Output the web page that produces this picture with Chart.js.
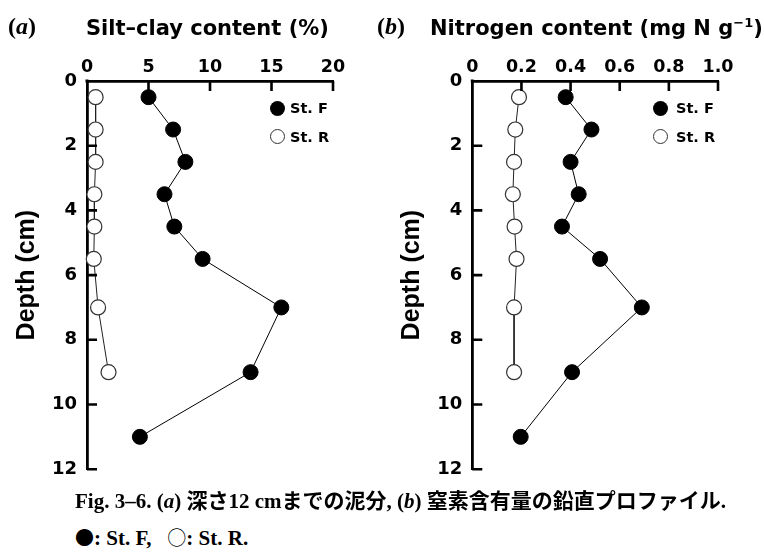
<!DOCTYPE html>
<html>
<head>
<meta charset="utf-8">
<script src="https://cdn.jsdelivr.net/npm/chart.js@4.4.1/dist/chart.umd.min.js"></script>
<style>
  html, body { margin: 0; padding: 0; background: #fff; }
  #page { position: relative; width: 764px; height: 553px; overflow: hidden; background: #fff; }
  .panel { position: absolute; top: 0; width: 382px; height: 490px; }
  .panel canvas { display: block; }
  .tag { position: absolute; top: 14px; font-family: "Liberation Serif", serif; font-weight: bold;
         font-size: 24px; line-height: 24px; white-space: nowrap; color: #000; }
  .tag i { font-style: italic; }
  .title { position: absolute; top: 18px; font-family: "DejaVu Sans", sans-serif; font-weight: bold;
           font-size: 21px; line-height: 21px; white-space: nowrap; color: #000; }
  .title sup { font-size: 13px; vertical-align: 8px; line-height: 0; }
  .key { position: absolute; font-family: "DejaVu Sans", sans-serif; font-weight: bold;
         font-size: 14.5px; line-height: 14px; white-space: nowrap; color: #000; }
  .dot { position: absolute; width: 15px; height: 15px; border-radius: 50%; box-sizing: border-box; }
  .dot.fill { background: #000; }
  .dot.open { background: #fff; border: 1.2px solid #333; }
  .cap { position: absolute; left: 75px; font-family: "Liberation Serif", "Noto Sans CJK JP", serif;
         font-weight: bold; font-size: 21px; line-height: 21px; white-space: nowrap; color: #000; }
  .cap i { font-style: italic; }
  .cap .sym { font-family: "Noto Sans CJK JP", sans-serif; font-weight: normal; font-size: 19px; }
</style>
</head>
<body>
<div id="page">
  <div class="panel" style="left:0"><canvas id="chartA" width="382" height="490"></canvas></div>
  <div class="panel" style="left:382px"><canvas id="chartB" width="382" height="490"></canvas></div>

  <div class="tag" style="left:8px">(<i>a</i>)</div>
  <div class="title" style="left:86px">Silt–clay content (%)</div>
  <div class="tag" style="left:377px">(<i>b</i>)</div>
  <div class="title" style="left:430px">Nitrogen content (mg N g<sup>−1</sup>)</div>

  <!-- legends -->
  <div class="dot fill" style="left:270px;top:100.5px"></div>
  <div class="key" style="left:290px;top:101px">St. F</div>
  <div class="dot open" style="left:270px;top:129px"></div>
  <div class="key" style="left:290px;top:130px">St. R</div>

  <div class="dot fill" style="left:653px;top:100.5px"></div>
  <div class="key" style="left:676px;top:101px">St. F</div>
  <div class="dot open" style="left:653px;top:129px"></div>
  <div class="key" style="left:676px;top:130px">St. R</div>

  <div class="cap" style="top:491px">Fig. 3–6. (<i>a</i>) 深さ12 cmまでの泥分, (<i>b</i>) 窒素含有量の鉛直プロファイル.</div>
  <div class="cap" style="top:526px"><span class="sym">●</span>: St. F,&nbsp;&nbsp;&nbsp;<span class="sym">○</span>: St. R.</div>
</div>

<script>
// Sampling depths (cm)
const depthF = [0.5, 1.5, 2.5, 3.5, 4.5, 5.5, 7, 9, 11];
const depthR = [0.5, 1.5, 2.5, 3.5, 4.5, 5.5, 7, 9];

// (a) silt–clay content (%)
const siltF = [5.0, 7.0, 8.0, 6.3, 7.1, 9.4, 15.8, 13.3, 4.3];
const siltR = [0.7, 0.7, 0.7, 0.6, 0.6, 0.55, 0.9, 1.75];

// (b) nitrogen content (mg N g-1)
const nitrogenF = [0.38, 0.485, 0.40, 0.433, 0.365, 0.52, 0.69, 0.406, 0.197];
const nitrogenR = [0.19, 0.175, 0.17, 0.165, 0.172, 0.18, 0.17, 0.17];

// Axis ticks
const depthTicks = [0, 2, 4, 6, 8, 10, 12];
const siltTicks = [0, 5, 10, 15, 20];
const nitrogenTicks = [0, 0.2, 0.4, 0.6, 0.8, 1.0];
const nitrogenTickLabels = ['0', '0.2', '0.4', '0.6', '0.8', '1.0'];

const toPoints = (xs, ys) => xs.map((v, i) => ({ x: v, y: ys[i] }));

// Short inward tick marks along both axes, plus a square corner joint
const inwardTicks = {
  id: 'inwardTicks',
  afterDraw(chart) {
    const { ctx, chartArea: a, scales: { x, y } } = chart;
    ctx.save();
    ctx.strokeStyle = '#000';
    ctx.lineWidth = 2.6;
    ctx.beginPath();
    x.ticks.forEach(t => {
      if (t.value === x.min) return;
      const px = x.getPixelForValue(t.value);
      ctx.moveTo(px, a.top);
      ctx.lineTo(px, a.top + 10);
    });
    y.ticks.forEach(t => {
      if (t.value === y.min) return;
      const py = y.getPixelForValue(t.value);
      ctx.moveTo(a.left, py);
      ctx.lineTo(a.left + 10, py);
    });
    ctx.stroke();
    ctx.fillStyle = '#000';
    ctx.fillRect(a.left - 1.5, a.top - 1.5, 3, 3);
    ctx.restore();
  }
};

function makeProfile(canvasId, cfg) {
  const W = 382, H = 490;
  return new Chart(document.getElementById(canvasId), {
    type: 'scatter',
    data: {
      datasets: [
        {
          label: 'St. R',
          data: toPoints(cfg.valuesR, depthR),
          showLine: true,
          borderColor: '#222',
          borderWidth: 1,
          pointRadius: 7.5,
          pointBackgroundColor: '#fff',
          pointBorderColor: '#333',
          pointBorderWidth: 1.2,
          clip: false
        },
        {
          label: 'St. F',
          data: toPoints(cfg.valuesF, depthF),
          showLine: true,
          borderColor: '#000',
          borderWidth: 1,
          pointRadius: 7.5,
          pointBackgroundColor: '#000',
          pointBorderColor: '#000',
          pointBorderWidth: 1,
          clip: false
        }
      ]
    },
    options: {
      responsive: false,
      animation: false,
      devicePixelRatio: 1,
      layout: { padding: { left: 0, top: 0, right: W - cfg.right, bottom: H - 475 } },
      plugins: { legend: { display: false }, tooltip: { enabled: false } },
      scales: {
        x: {
          type: 'linear',
          position: 'top',
          min: 0,
          max: cfg.xTicks[cfg.xTicks.length - 1],
          afterBuildTicks: s => { s.ticks = cfg.xTicks.map(v => ({ value: v })); },
          afterFit: s => { s.height = 81; },
          grid: { display: true, drawOnChartArea: false, drawTicks: false },
          border: { display: true, color: '#000', width: 2.8 },
          ticks: {
            padding: 3,
            color: '#000',
            maxRotation: 0,
            font: { family: 'DejaVu Sans', weight: 'bold', size: 17.5 },
            callback: (v) => cfg.xLabel(v)
          }
        },
        y: {
          type: 'linear',
          position: 'left',
          reverse: true,
          min: 0,
          max: 12,
          afterBuildTicks: s => { s.ticks = depthTicks.map(v => ({ value: v })); },
          afterFit: s => { s.width = cfg.left; },
          grid: { display: true, drawOnChartArea: false, drawTicks: false },
          border: { display: true, color: '#000', width: 2.8 },
          ticks: {
            padding: 10,
            color: '#000',
            font: { family: 'DejaVu Sans', weight: 'bold', size: 18 },
            callback: (v) => String(v)
          },
          title: {
            display: true,
            text: 'Depth (cm)',
            color: '#000',
            padding: { top: cfg.titlePad, bottom: 0 },
            font: { family: 'Liberation Sans', weight: 'bold', size: 25 }
          }
        }
      }
    },
    plugins: [inwardTicks]
  });
}

makeProfile('chartA', {
  valuesF: siltF,
  valuesR: siltR,
  xTicks: siltTicks,
  xLabel: v => String(v),
  left: 87,
  right: 333,
  titlePad: 12
});

makeProfile('chartB', {
  valuesF: nitrogenF,
  valuesR: nitrogenR,
  xTicks: nitrogenTicks,
  xLabel: v => nitrogenTickLabels[nitrogenTicks.findIndex(t => Math.abs(t - v) < 1e-9)] ?? '',
  left: 90.3,
  right: 336,
  titlePad: 15
});
</script>
</body>
</html>
